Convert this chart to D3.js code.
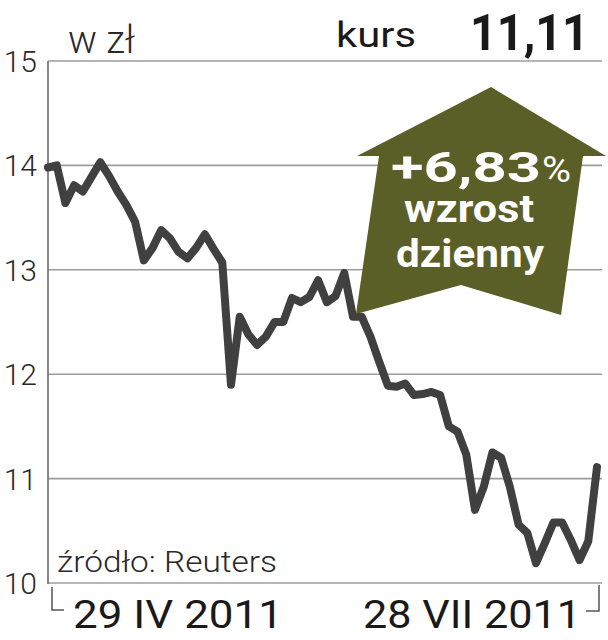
<!DOCTYPE html>
<html>
<head>
<meta charset="utf-8">
<script src="https://cdn.jsdelivr.net/npm/d3@7"></script>
<style>
  body { margin: 0; background: #fff; }
  svg { display: block; }
  text { font-family: Roboto, "Liberation Sans", sans-serif; }
</style>
</head>
<body>
<svg id="chart" width="608" height="640"></svg>
<script>
// kurs zamknięcia, sesje od 29 IV 2011 do 28 VII 2011 (w zł)
const prices = [
  13.98, 14.00, 13.64, 13.81, 13.75, 13.89, 14.03, 13.90, 13.75, 13.62,
  13.46, 13.09, 13.21, 13.38, 13.30, 13.17, 13.11, 13.21, 13.34, 13.20,
  13.07, 11.90, 12.55, 12.38, 12.28, 12.36, 12.50, 12.50, 12.73, 12.69,
  12.74, 12.90, 12.69, 12.75, 12.97, 12.55, 12.55, 12.36, 12.12, 11.89,
  11.88, 11.91, 11.80, 11.81, 11.83, 11.80, 11.50, 11.45, 11.23, 10.70,
  10.92, 11.25, 11.20, 10.92, 10.56, 10.48, 10.19, 10.38, 10.58, 10.58,
  10.41, 10.22, 10.40, 11.11
];
const yTicks = [10, 11, 12, 13, 14, 15];
const dateLabels = ["29 IV 2011", "28 VII 2011"];
const lastPrice = "11,11";
const change = "+6,83";
const changeLabel = ["wzrost", "dzienny"];

(function() {
const svg = d3.select("#chart");
const mLeft = 48, mRight = 602, mTop = 61, mBottom = 583;

const x = d3.scaleLinear().domain([0, prices.length - 1]).range([mLeft, 597]);
const y = d3.scaleLinear().domain([10, 15]).range([mBottom, mTop]);

// siatka
svg.append("g")
  .selectAll("line")
  .data(yTicks)
  .enter().append("line")
  .attr("x1", mLeft).attr("x2", mRight)
  .attr("y1", d => y(d)).attr("y2", d => y(d))
  .attr("stroke", "#9c9c9c")
  .attr("stroke-width", 1.6);

svg.append("line")
  .attr("x1", mLeft).attr("x2", mLeft)
  .attr("y1", mTop).attr("y2", mBottom + 1)
  .attr("stroke", "#6a6a6a")
  .attr("stroke-width", 1.6);

// etykiety osi Y
svg.append("g")
  .selectAll("text")
  .data(yTicks)
  .enter().append("text")
  .attr("x", 37)
  .attr("y", d => y(d) + 11)
  .attr("text-anchor", "end")
  .attr("font-size", 30)
  .attr("font-weight", 300)
  .attr("fill", "#2a2a2a")
  .text(d => d);

svg.append("text")
  .attr("x", 68).attr("y", 53)
  .attr("font-size", 39)
  .attr("font-weight", 300)
  .attr("fill", "#2a2a2a")
  .attr("textLength", 67).attr("lengthAdjust", "spacingAndGlyphs")
  .text("w zł");

svg.append("text")
  .attr("x", 336).attr("y", 47)
  .attr("font-size", 35)
  .attr("fill", "#1a1a1a")
  .attr("textLength", 80).attr("lengthAdjust", "spacingAndGlyphs")
  .text("kurs");

svg.append("text")
  .attr("x", 470).attr("y", 50)
  .attr("font-size", 50)
  .attr("font-weight", 700)
  .attr("fill", "#1a1a1a")
  .attr("textLength", 119).attr("lengthAdjust", "spacingAndGlyphs")
  .text(lastPrice);

// linia kursu
const line = d3.line()
  .x((d, i) => x(i))
  .y(d => y(d));

svg.append("path")
  .datum(prices)
  .attr("d", line)
  .attr("fill", "none")
  .attr("stroke", "#404040")
  .attr("stroke-width", 8)
  .attr("stroke-linejoin", "round")
  .attr("stroke-linecap", "round");

// strzałka
const arrow = [
  [491, 87], [606, 156], [583, 156], [561, 315], [461, 285],
  [356, 314], [379, 156], [357, 156]
];
svg.append("polygon")
  .attr("points", arrow.map(p => p.join(",")).join(" "))
  .attr("fill", "#5a5e27");

const at = svg.append("g").attr("fill", "#fff").attr("font-weight", 700);
at.append("text")
  .attr("x", 391).attr("y", 182)
  .attr("font-size", 42)
  .attr("textLength", 150).attr("lengthAdjust", "spacingAndGlyphs")
  .text(change);
at.append("text")
  .attr("x", 542).attr("y", 182)
  .attr("font-size", 36)
  .attr("font-weight", 400)
  .attr("textLength", 29).attr("lengthAdjust", "spacingAndGlyphs")
  .text("%");
at.append("text")
  .attr("x", 404).attr("y", 222)
  .attr("font-size", 38)
  .attr("textLength", 130).attr("lengthAdjust", "spacingAndGlyphs")
  .text(changeLabel[0]);
at.append("text")
  .attr("x", 396).attr("y", 267)
  .attr("font-size", 38)
  .attr("textLength", 148).attr("lengthAdjust", "spacingAndGlyphs")
  .text(changeLabel[1]);

// źródło
svg.append("text")
  .attr("x", 57).attr("y", 572)
  .attr("font-size", 30)
  .attr("font-weight", 300)
  .attr("fill", "#2a2a2a")
  .attr("textLength", 220).attr("lengthAdjust", "spacingAndGlyphs")
  .text("źródło: Reuters");

// znaczniki dat
const x0 = x(0) + 4, x1 = x(prices.length - 1) + 2;
svg.append("path")
  .attr("d", `M${x0},${mBottom + 4}V610H${x0 + 12}`)
  .attr("fill", "none").attr("stroke", "#555").attr("stroke-width", 1.5);
svg.append("path")
  .attr("d", `M${x1},${mBottom + 2}V611H${x1 - 13}`)
  .attr("fill", "none").attr("stroke", "#555").attr("stroke-width", 1.5);

svg.append("text")
  .attr("x", 73).attr("y", 628)
  .attr("font-size", 39)
  .attr("font-weight", 400)
  .attr("fill", "#1a1a1a")
  .attr("textLength", 210).attr("lengthAdjust", "spacingAndGlyphs")
  .text(dateLabels[0]);
svg.append("text")
  .attr("x", 363).attr("y", 628)
  .attr("font-size", 39)
  .attr("font-weight", 400)
  .attr("fill", "#1a1a1a")
  .attr("textLength", 218).attr("lengthAdjust", "spacingAndGlyphs")
  .text(dateLabels[1]);
})();
</script>
</body>
</html>
